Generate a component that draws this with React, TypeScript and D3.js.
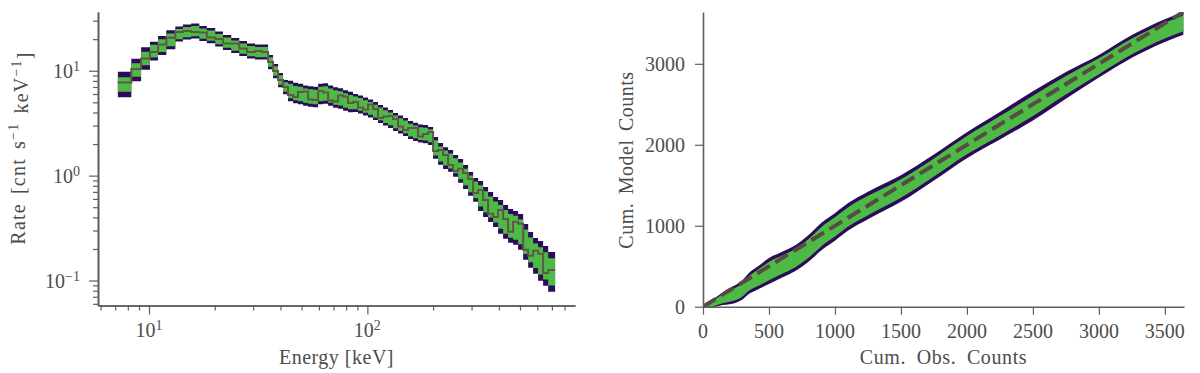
import React, { useEffect, useRef } from "react";
import * as d3 from "d3";

// ---- spectrum panel (energy bins in keV, rates in cnt/s/keV) ----
const energyEdges = [
  7.2, 8.3, 9.2, 10.1, 11.0, 12.0, 13.2, 14.3, 15.6, 17.0, 18.4, 20.1, 21.8, 23.8, 25.9, 28.1,
  30.6, 32.9, 35.1, 37.0, 39.0, 41.1, 43.3, 45.7, 48.1, 50.8, 53.5, 56.4, 59.5, 62.7, 66.1,
  69.7, 73.4, 77.4, 81.6, 86.0, 90.6, 95.5, 100.7, 106.2, 111.9, 118, 124.4, 131.1, 138.2,
  145.7, 153.6, 161.9, 170.7, 179.9, 189.7, 200, 210.8, 222.2, 234.3, 247, 260.4, 274.4,
  289.3, 305, 321.4, 338.8, 357.2, 376.6, 397, 418.4, 441, 465, 490, 517, 545, 574, 605,
  638, 673, 724,
];

const rateMid = [
  7.39, 10.15, 13.07, 15.4, 17.38, 19.73, 22.36, 23.37, 23.88, 22.61,
  21.63, 20.04, 18.56, 17.38, 16.27, 15.4, 15.07, 15.07, 12.1, 9.93,
  8.15, 6.99, 6.41, 6.13, 6.0, 5.8, 5.68, 5.62, 6.0, 6.07,
  5.8, 5.56, 5.44, 5.2, 5.03, 4.93, 4.77, 4.56, 4.37, 4.13,
  3.87, 3.66, 3.47, 3.25, 3.07, 2.91, 2.72, 2.61, 2.52, 2.49,
  2.39, 1.84, 1.61, 1.47, 1.38, 1.24, 1.11, 0.97, 0.834, 0.731,
  0.641, 0.562, 0.503, 0.451, 0.404, 0.362, 0.332, 0.318, 0.291, 0.234,
  0.196, 0.172, 0.154, 0.138, 0.121,
];

const rateObs = [
  7.72, 10.37, 13.07, 15.06, 17.76, 20.62, 23.37, 23.88, 23.35, 23.11,
  20.7, 20.04, 18.15, 18.16, 16.27, 15.06, 15.4, 15.07, 12.1, 9.93,
  8.15, 6.99, 5.87, 5.62, 6.27, 6.33, 5.32, 5.26, 6.41, 6.2,
  5.2, 5.09, 5.81, 5.68, 4.92, 5.04, 4.46, 4.27, 4.77, 4.32,
  3.54, 3.66, 3.71, 3.47, 2.94, 2.72, 2.84, 2.85, 2.36, 2.49,
  2.61, 1.72, 1.76, 1.57, 1.26, 1.11, 1.16, 1.06, 0.931, 0.684,
  0.731, 0.587, 0.432, 0.404, 0.471, 0.387, 0.291, 0.363, 0.347, 0.196,
  0.172, 0.192, 0.18, 0.118, 0.126,
];

// multiplicative half-widths of the 95% and 68% bands
const spread95 = [
  1.32, 1.28, 1.28, 1.23, 1.23, 1.23, 1.18, 1.18, 1.18, 1.18,
  1.18, 1.18, 1.18, 1.18, 1.18, 1.18, 1.18, 1.18, 1.17, 1.17,
  1.17, 1.17, 1.25, 1.25, 1.25, 1.25, 1.25, 1.25, 1.25, 1.25,
  1.25, 1.25, 1.25, 1.25, 1.25, 1.22, 1.22, 1.22, 1.22, 1.22,
  1.22, 1.22, 1.22, 1.22, 1.22, 1.22, 1.22, 1.22, 1.22, 1.22,
  1.22, 1.27, 1.27, 1.27, 1.27, 1.27, 1.3, 1.3, 1.3, 1.3,
  1.39, 1.39, 1.39, 1.39, 1.45, 1.45, 1.45, 1.45, 1.48, 1.48,
  1.48, 1.48, 1.55, 1.55, 1.55,
];
const spread68 = [
  1.17, 1.16, 1.16, 1.15, 1.15, 1.15, 1.12, 1.12, 1.12, 1.12,
  1.12, 1.12, 1.12, 1.12, 1.12, 1.12, 1.12, 1.12, 1.11, 1.11,
  1.11, 1.11, 1.17, 1.17, 1.17, 1.17, 1.17, 1.17, 1.17, 1.17,
  1.17, 1.17, 1.17, 1.17, 1.17, 1.15, 1.15, 1.15, 1.15, 1.15,
  1.15, 1.15, 1.15, 1.15, 1.15, 1.15, 1.15, 1.15, 1.15, 1.15,
  1.15, 1.18, 1.18, 1.18, 1.18, 1.18, 1.2, 1.2, 1.2, 1.2,
  1.26, 1.26, 1.26, 1.26, 1.3, 1.3, 1.3, 1.3, 1.31, 1.31,
  1.31, 1.31, 1.35, 1.35, 1.35,
];

const energyMajor = [10, 100];
const energyMinor = [6, 7, 8, 9, 20, 30, 40, 50, 60, 70, 80, 90, 200, 300, 400, 500, 600, 700, 800];
const rateMajor = [0.1, 1, 10];
const rateMinor = [0.06, 0.07, 0.08, 0.09, 0.2, 0.3, 0.4, 0.5, 0.6, 0.7, 0.8, 0.9, 2, 3, 4, 5, 6, 7, 8, 9, 20, 30];

// ---- cumulative counts panel ----
const cumObs = [0, 50, 100, 150, 200, 250, 300, 350, 400, 450, 500, 600, 700, 800, 900, 1000, 1100, 1250, 1500, 1750, 2000, 2250, 2500, 2750, 3000, 3250, 3500, 3640];
const cumMid = [0, 25, 60, 100, 130, 160, 210, 290, 340, 390, 440, 520, 600, 720, 870, 985, 1110, 1250, 1460, 1720, 1995, 2235, 2480, 2735, 2970, 3215, 3410, 3500];
const cumW95 = [0, 35, 60, 80, 100, 110, 120, 130, 140, 150, 160, 160, 160, 165, 170, 170, 170, 170, 165, 160, 160, 170, 180, 165, 140, 140, 140, 140];
const cumW68 = [0, 25, 42, 56, 70, 77, 84, 91, 98, 105, 112, 112, 112, 115, 119, 119, 119, 119, 115, 112, 112, 119, 126, 115, 98, 98, 98, 98];
const diagonal = [0, 3640];
const countTicksX = [0, 500, 1000, 1500, 2000, 2500, 3000, 3500];
const countTicksY = [0, 1000, 2000, 3000];

const FONT = "'Liberation Serif', 'Times New Roman', 'DejaVu Serif', serif";
const AXIS = "#5e5e5e";
const TEXT = "#4d4d4d";
const PURPLE = "#2d0a5a";
const GREEN = "#4cba45";
const STEP = "#615649";
const DASH = "#574c44";

const supLabel = (sel: any, base: string, exp: string) => {
  sel.append("tspan").text(base);
  sel.append("tspan").attr("dy", "-0.5em").attr("font-size", 14).text(exp);
};

const styleAxis = (g: any) => {
  g.select(".domain").attr("stroke", AXIS).attr("stroke-width", 1.6);
  g.selectAll(".tick line").attr("stroke", AXIS).attr("stroke-width", 1.2);
  g.selectAll(".tick text").remove();
};

const drawSpectrum = (root: any) => {
  const left = 98, right = 575, top = 12, bottom = 305.5;
  const x = d3.scaleLog().domain([5.84, 893]).range([left, right]);
  const y = d3.scaleLog().domain([0.0578, 36.3]).range([bottom, top]);

  const bins = rateMid.map((m, i) => ({
    lo: energyEdges[i], hi: energyEdges[i + 1], mid: m, obs: rateObs[i], s95: spread95[i], s68: spread68[i],
  }));
  const pts = bins.flatMap((b) => [{ ...b, e: b.lo }, { ...b, e: b.hi }]);

  root.append("path").datum(pts)
    .attr("fill", PURPLE)
    .attr("d", d3.area<any>().x((d) => x(d.e)).y0((d) => y(d.mid / d.s95)).y1((d) => y(d.mid * d.s95)));
  root.append("path").datum(pts)
    .attr("fill", GREEN)
    .attr("d", d3.area<any>().x((d) => x(d.e)).y0((d) => y(d.mid / d.s68)).y1((d) => y(d.mid * d.s68)));
  root.append("path").datum(pts)
    .attr("fill", "none").attr("stroke", STEP).attr("stroke-width", 2).attr("stroke-linejoin", "miter")
    .attr("d", d3.line<any>().x((d) => x(d.e)).y((d) => y(d.obs)));

  // axes
  root.append("g").attr("transform", `translate(0,${bottom})`)
    .call(d3.axisBottom(x).tickValues(energyMinor).tickSize(5).tickSizeOuter(0).tickFormat(() => ""))
    .call(styleAxis);
  root.append("g").attr("transform", `translate(0,${bottom})`)
    .call(d3.axisBottom(x).tickValues(energyMajor).tickSize(9).tickSizeOuter(0).tickFormat(() => ""))
    .call(styleAxis);
  root.append("g").attr("transform", `translate(${left},0)`)
    .call(d3.axisLeft(y).tickValues(rateMinor).tickSize(5).tickSizeOuter(0).tickFormat(() => ""))
    .call(styleAxis);
  root.append("g").attr("transform", `translate(${left},0)`)
    .call(d3.axisLeft(y).tickValues(rateMajor).tickSize(9).tickSizeOuter(0).tickFormat(() => ""))
    .call(styleAxis);

  energyMajor.forEach((v) => {
    const t = root.append("text").attr("x", x(v)).attr("y", bottom + 31)
      .attr("text-anchor", "middle").attr("font-family", FONT).attr("font-size", 20).attr("fill", TEXT);
    supLabel(t, "10", String(Math.round(Math.log10(v))));
  });
  rateMajor.forEach((v) => {
    const e = Math.round(Math.log10(v));
    const t = root.append("text").attr("x", left - 18).attr("y", y(v) + 7)
      .attr("text-anchor", "end").attr("font-family", FONT).attr("font-size", 20).attr("fill", TEXT);
    supLabel(t, "10", e < 0 ? "\u2212" + Math.abs(e) : String(e));
  });

  root.append("text").attr("x", (left + right) / 2).attr("y", 364)
    .attr("text-anchor", "middle").attr("font-family", FONT).attr("font-size", 20)
    .attr("letter-spacing", 0.5).attr("fill", TEXT).text("Energy [keV]");

  const yl = root.append("text").attr("transform", "translate(25,148) rotate(-90)")
    .attr("text-anchor", "middle").attr("font-family", FONT).attr("font-size", 20)
    .attr("letter-spacing", 1.2).attr("word-spacing", 3).attr("fill", TEXT);
  yl.append("tspan").text("Rate [cnt s");
  yl.append("tspan").attr("dy", "-0.5em").attr("font-size", 14).text("\u22121");
  yl.append("tspan").attr("dy", "0.5em").text(" keV");
  yl.append("tspan").attr("dy", "-0.5em").attr("font-size", 14).text("\u22121");
  yl.append("tspan").attr("dy", "0.5em").text("]");
};

const drawCumulative = (root: any) => {
  const left = 703, right = 1184, top = 12, bottom = 306.7;
  const x = d3.scaleLinear().domain([0, 3645]).range([left, right]);
  const y = d3.scaleLinear().domain([0, 3640]).range([bottom, top]);

  const pts = cumObs.map((o, i) => ({ o, m: cumMid[i], w95: cumW95[i], w68: cumW68[i] }));

  root.append("clipPath").attr("id", "cum-clip")
    .append("rect").attr("x", left).attr("y", top).attr("width", right - left).attr("height", bottom - top);

  const band = root.append("g").attr("clip-path", "url(#cum-clip)");
  band.append("path").datum(pts).attr("fill", PURPLE)
    .attr("d", d3.area<any>().curve(d3.curveMonotoneX).x((d) => x(d.o)).y0((d) => y(d.m - d.w95)).y1((d) => y(d.m + d.w95)));
  band.append("path").datum(pts).attr("fill", GREEN)
    .attr("d", d3.area<any>().curve(d3.curveMonotoneX).x((d) => x(d.o)).y0((d) => y(d.m - d.w68)).y1((d) => y(d.m + d.w68)));
  band.append("path").datum(diagonal)
    .attr("fill", "none").attr("stroke", DASH).attr("stroke-width", 4).attr("stroke-dasharray", "14.8 6.4")
    .attr("d", d3.line<number>().x((d) => x(d)).y((d) => y(d)));

  root.append("g").attr("transform", `translate(0,${bottom})`)
    .call(d3.axisBottom(x).tickValues(countTicksX).tickSize(8).tickSizeOuter(0).tickFormat(() => ""))
    .call(styleAxis);
  root.append("g").attr("transform", `translate(${left},0)`)
    .call(d3.axisLeft(y).tickValues(countTicksY).tickSize(8).tickSizeOuter(0).tickFormat(() => ""))
    .call(styleAxis);

  countTicksX.forEach((v) => {
    root.append("text").attr("x", x(v)).attr("y", bottom + 31)
      .attr("text-anchor", "middle").attr("font-family", FONT).attr("font-size", 20).attr("fill", TEXT)
      .text(String(v));
  });
  countTicksY.forEach((v) => {
    root.append("text").attr("x", left - 18).attr("y", y(v) + 7)
      .attr("text-anchor", "end").attr("font-family", FONT).attr("font-size", 20).attr("fill", TEXT)
      .text(String(v));
  });

  root.append("text").attr("x", (left + right) / 2).attr("y", 364)
    .attr("text-anchor", "middle").attr("font-family", FONT).attr("font-size", 20)
    .attr("letter-spacing", 0.6).attr("word-spacing", 5).attr("fill", TEXT).text("Cum. Obs. Counts");
  root.append("text").attr("transform", "translate(633,160) rotate(-90)")
    .attr("text-anchor", "middle").attr("font-family", FONT).attr("font-size", 20)
    .attr("letter-spacing", 0.5).attr("word-spacing", 3).attr("fill", TEXT).text("Cum. Model Counts");
};

export default function App() {
  const ref = useRef<SVGSVGElement>(null);

  useEffect(() => {
    const svg = d3.select(ref.current);
    svg.selectAll("*").remove();
    drawSpectrum(svg.append("g"));
    drawCumulative(svg.append("g"));
  }, []);

  return (
    <svg
      ref={ref}
      width={1200}
      height={373}
      style={{ position: "absolute", left: 0, top: 0, background: "#fff" }}
    />
  );
}
